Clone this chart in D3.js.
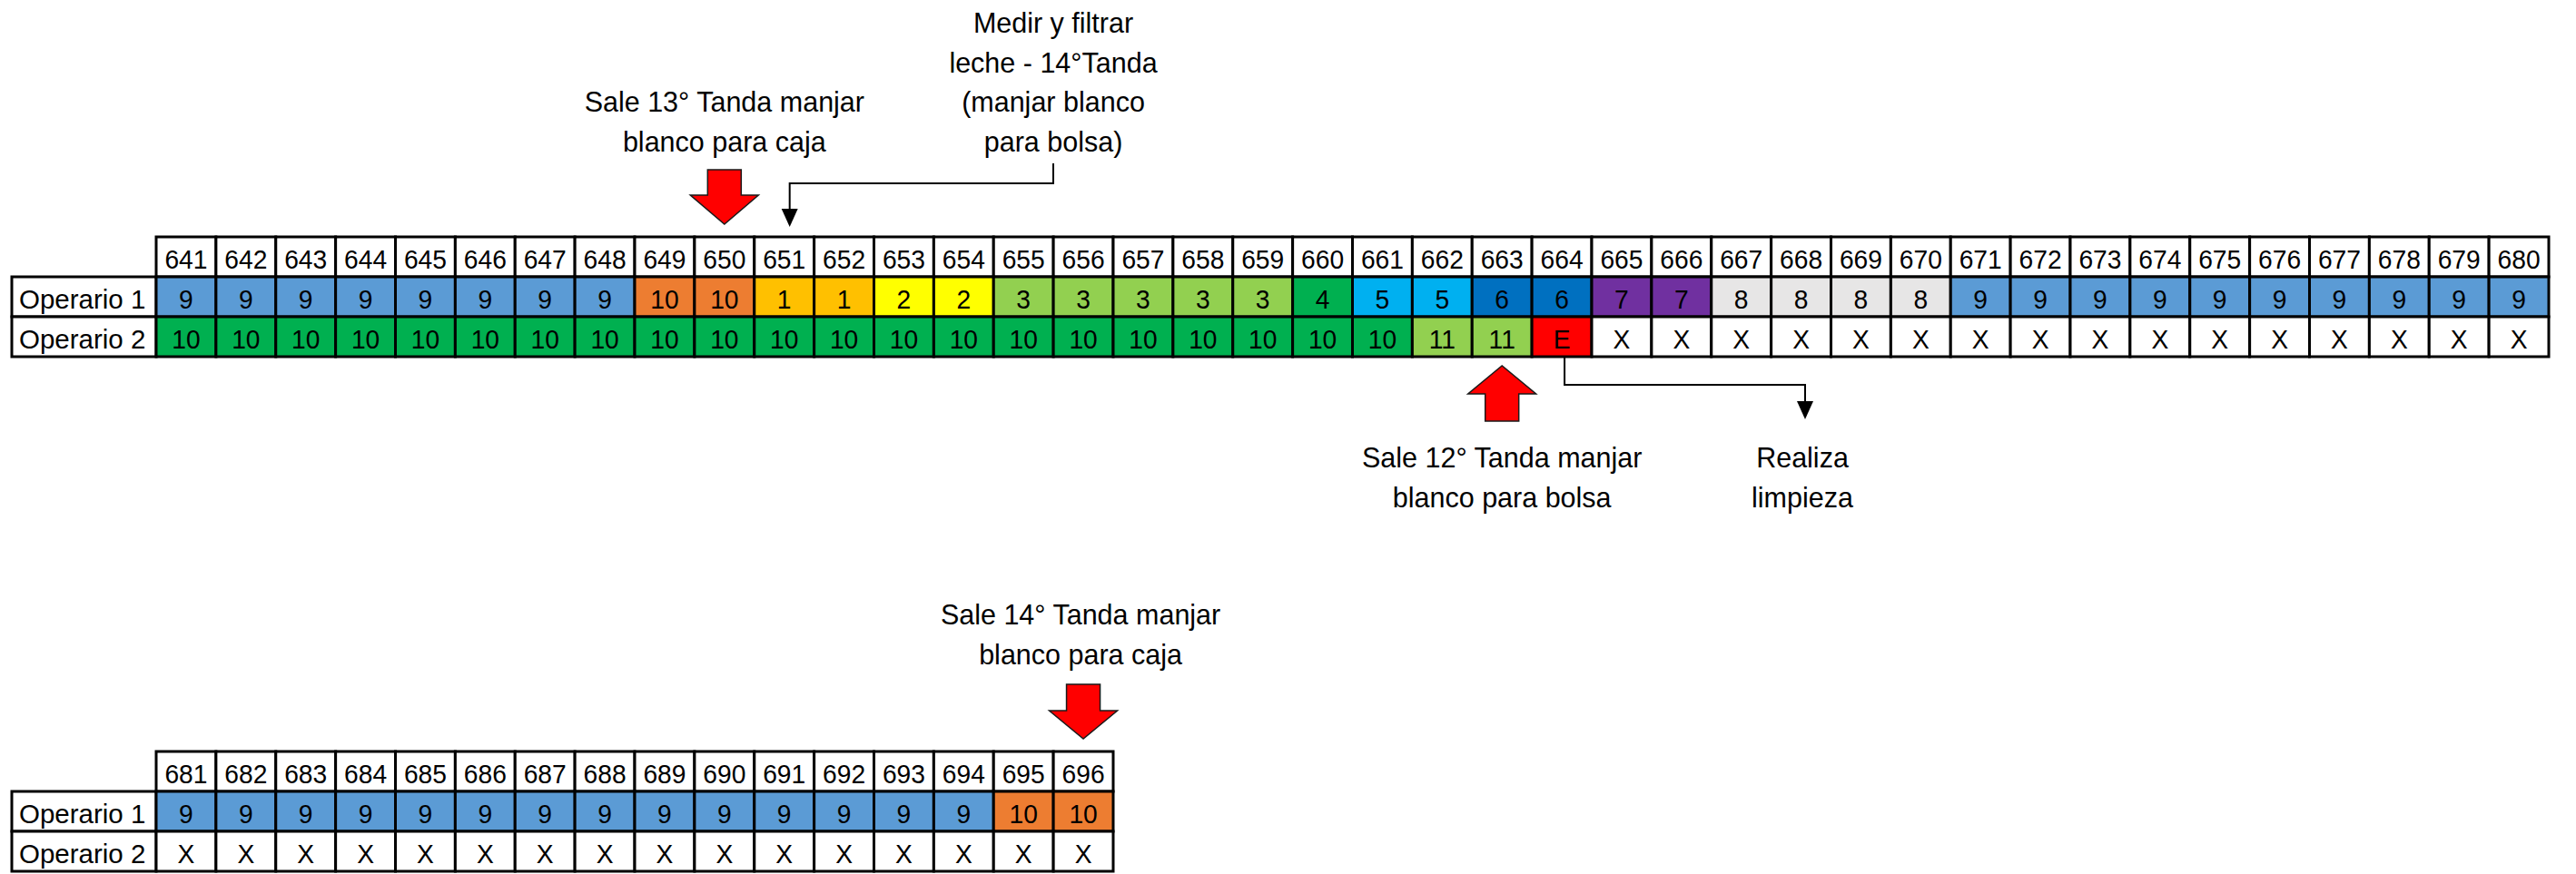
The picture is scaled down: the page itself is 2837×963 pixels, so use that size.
<!DOCTYPE html>
<html>
<head>
<meta charset="utf-8">
<script src="https://cdn.jsdelivr.net/npm/d3@7"></script>
<style>
  html, body { margin: 0; padding: 0; background: #fff; }
  svg { display: block; }
  text { font-family: "Liberation Sans", Arial, sans-serif; fill: #000; }
</style>
</head>
<body>
<svg id="chart" width="2837" height="963"></svg>
<script>
// ---------- DATA ----------
const timesTop = [641,642,643,644,645,646,647,648,649,650,651,652,653,654,655,656,657,658,659,660,
                  661,662,663,664,665,666,667,668,669,670,671,672,673,674,675,676,677,678,679,680];
const op1Top = [9,9,9,9,9,9,9,9,10,10,1,1,2,2,3,3,3,3,3,4,
                5,5,6,6,7,7,8,8,8,8,9,9,9,9,9,9,9,9,9,9];
const op2Top = [10,10,10,10,10,10,10,10,10,10,10,10,10,10,10,10,10,10,10,10,
                10,11,11,"E","X","X","X","X","X","X","X","X","X","X","X","X","X","X","X","X"];

const timesBottom = [681,682,683,684,685,686,687,688,689,690,691,692,693,694,695,696];
const op1Bottom = [9,9,9,9,9,9,9,9,9,9,9,9,9,9,10,10];
const op2Bottom = ["X","X","X","X","X","X","X","X","X","X","X","X","X","X","X","X"];

const rowLabels = ["Operario 1", "Operario 2"];

const op1Colors = {9:"#5B9BD5", 10:"#ED7D31", 1:"#FFC000", 2:"#FFFF00", 3:"#92D050",
                   4:"#00B050", 5:"#00B0F0", 6:"#0070C0", 7:"#7030A0", 8:"#E7E6E6"};
const op2Colors = {10:"#00B050", 11:"#92D050", E:"#FF0000", X:"#FFFFFF"};

// annotations: [table, column, lines]
const noteSale13 = ["Sale 13° Tanda manjar", "blanco para caja"];
const noteMedir  = ["Medir y filtrar", "leche - 14°Tanda", "(manjar blanco", "para bolsa)"];
const noteSale12 = ["Sale 12° Tanda manjar", "blanco para bolsa"];
const noteLimpieza = ["Realiza", "limpieza"];
const noteSale14 = ["Sale 14° Tanda manjar", "blanco para caja"];

// ---------- DRAW ----------
const svg = d3.select("#chart");
svg.append("rect").attr("width", 2837).attr("height", 963).attr("fill", "#fff");

const labelX0 = 13, dataX0 = 172, colW = 65.875;
const LINE = 3;

function drawTable(times, op1, op2, yTop) {
  const x = d3.scaleBand().domain(times).range([dataX0, dataX0 + colW * times.length]);
  const y = d3.scaleBand().domain(["header", ...rowLabels]).range([yTop, yTop + 132]);
  const g = svg.append("g");

  const rows = [
    {key: "header", vals: times, colors: () => "#FFFFFF"},
    {key: rowLabels[0], vals: op1, colors: v => op1Colors[v]},
    {key: rowLabels[1], vals: op2, colors: v => op2Colors[v]}
  ];

  // label cells
  rowLabels.forEach(r => {
    g.append("rect").attr("x", labelX0).attr("y", y(r))
      .attr("width", dataX0 - labelX0).attr("height", y.bandwidth())
      .attr("fill", "#fff").attr("stroke", "#000").attr("stroke-width", LINE);
    g.append("text").attr("x", labelX0 + 8).attr("y", y(r) + 35)
      .attr("font-size", 29.5).text(r);
  });

  rows.forEach(row => {
    const cells = g.selectAll(null).data(times.map((t, i) => ({t, v: row.vals[i]}))).enter();
    cells.append("rect")
      .attr("x", d => x(d.t)).attr("y", y(row.key))
      .attr("width", x.bandwidth()).attr("height", y.bandwidth())
      .attr("fill", d => row.colors(d.v))
      .attr("stroke", "#000").attr("stroke-width", LINE);
    cells.append("text")
      .attr("transform", d => `translate(${x(d.t) + x.bandwidth() / 2},${y(row.key) + 35}) scale(0.94,1)`)
      .attr("text-anchor", "middle").attr("font-size", 30)
      .text(d => d.v);
  });
  return {x, y};
}

const T = drawTable(timesTop, op1Top, op2Top, 261);
const B = drawTable(timesBottom, op1Bottom, op2Bottom, 828);

function note(lines, cx, baseline0, spacing) {
  const t = svg.append("text").attr("text-anchor", "middle").attr("font-size", 30.5);
  lines.forEach((l, i) => t.append("tspan").attr("x", cx).attr("y", baseline0 + i * spacing).text(l));
}

function bigArrow(cx, yBase, yNeck, yTip) {
  const sw = 18.5, hw = 37.5;
  const pts = [[cx - sw, yBase], [cx + sw, yBase], [cx + sw, yNeck], [cx + hw, yNeck],
               [cx, yTip], [cx - hw, yNeck], [cx - sw, yNeck]];
  svg.append("path").attr("d", d3.line()(pts) + "Z")
    .attr("fill", "#FF0000").attr("stroke", "#1a1a1a").attr("stroke-width", 1.5)
    .attr("stroke-linejoin", "miter");
}

function connector(pts, tipDir) {
  const end = pts[pts.length - 1];
  const linePts = pts.slice(0, -1).concat([[end[0], end[1] - 18 * tipDir]]);
  svg.append("path").attr("d", d3.line()(linePts))
    .attr("fill", "none").attr("stroke", "#000").attr("stroke-width", 2);
  svg.append("path")
    .attr("d", d3.line()([[end[0] - 9, end[1] - 20 * tipDir], [end[0] + 9, end[1] - 20 * tipDir], end]) + "Z")
    .attr("fill", "#000");
}

const cTop = c => T.x(c) + T.x.bandwidth() / 2;
const cBot = c => B.x(c) + B.x.bandwidth() / 2;

// 13° Tanda (column 650)
note(noteSale13, cTop(650), 123, 43.5);
bigArrow(cTop(650), 187, 215, 247);

// Medir y filtrar -> column 651
note(noteMedir, 1160, 36, 43.5);
connector([[1160, 180], [1160, 202], [cTop(651) + 6, 202], [cTop(651) + 6, 250]], 1);

// 12° Tanda (column 663), up arrow
bigArrow(cTop(663), 464, 434, 403);
note(noteSale12, cTop(663), 515, 43.5);

// limpieza from E (column 664)
connector([[cTop(664) + 3, 393], [cTop(664) + 3, 424], [1988, 424], [1988, 462]], 1);
note(noteLimpieza, 1985, 515, 43.5);

// 14° Tanda (column 696, bottom table)
note(noteSale14, cBot(696) - 3, 688, 44);
bigArrow(cBot(696), 754, 783, 814);
</script>
</body>
</html>
